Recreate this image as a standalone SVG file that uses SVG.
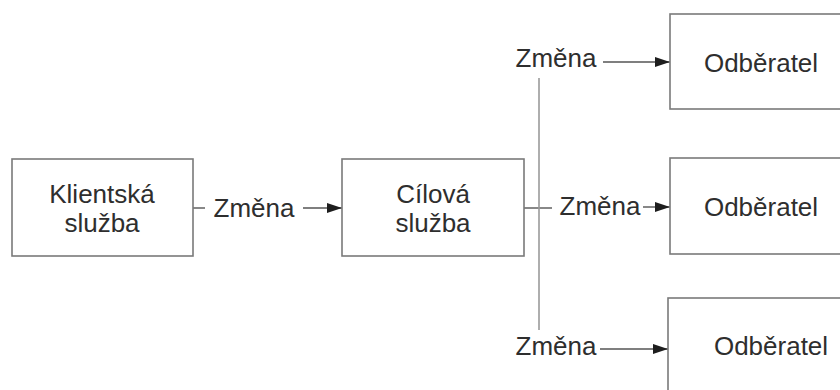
<svg xmlns="http://www.w3.org/2000/svg" width="840" height="390" viewBox="0 0 840 390">
<style>
.box{fill:#fff;stroke:#7a7a7a;stroke-width:1.6}
.t{font-family:"Liberation Sans",Arial,sans-serif;font-size:26px;fill:#2e2e2e}
.c{stroke:#555;stroke-width:1.4;fill:none}
.v{stroke:#9a9a9a;stroke-width:1.6;fill:none}
</style>
<defs>
<marker id="ah" markerUnits="userSpaceOnUse" markerWidth="15" markerHeight="10" refX="15" refY="5" orient="auto">
<path d="M0,0 L15,5 L0,10 Z" fill="#1e1e1e"/>
</marker>
</defs>
<rect width="840" height="390" fill="#fff"/>
<g id="connectors">
<line class="c" x1="193" y1="208" x2="205" y2="208"/>
<line class="c" x1="303" y1="208" x2="342" y2="208" marker-end="url(#ah)"/>
<line class="c" x1="524" y1="208" x2="552" y2="208"/>
<line class="v" x1="539" y1="78" x2="539" y2="330"/>
<line class="c" x1="603" y1="62" x2="670" y2="62" marker-end="url(#ah)"/>
<line class="c" x1="643" y1="207" x2="670" y2="207" marker-end="url(#ah)"/>
<line class="c" x1="600" y1="349" x2="668" y2="349" marker-end="url(#ah)"/>
<text class="t" x="254" y="217" text-anchor="middle">Změna</text>
<text class="t" x="556" y="67" text-anchor="middle">Změna</text>
<text class="t" x="600" y="215" text-anchor="middle">Změna</text>
<text class="t" x="556" y="355" text-anchor="middle">Změna</text>
</g>
<g id="klient">
<rect class="box" x="12" y="159" width="181" height="97"/>
<text class="t" x="102" y="203" text-anchor="middle">Klientská</text>
<text class="t" x="102" y="232" text-anchor="middle">služba</text>
</g>
<g id="cilova">
<rect class="box" x="342" y="159" width="182" height="97"/>
<text class="t" x="433" y="203" text-anchor="middle">Cílová</text>
<text class="t" x="433" y="232" text-anchor="middle">služba</text>
</g>
<g id="odb1">
<rect class="box" x="670" y="14" width="180" height="95"/>
<text class="t" x="761" y="72" text-anchor="middle">Odběratel</text>
</g>
<g id="odb2">
<rect class="box" x="670" y="158" width="180" height="96"/>
<text class="t" x="761" y="216" text-anchor="middle">Odběratel</text>
</g>
<g id="odb3">
<rect class="box" x="668" y="298" width="180" height="110"/>
<text class="t" x="771" y="355" text-anchor="middle">Odběratel</text>
</g>
</svg>
